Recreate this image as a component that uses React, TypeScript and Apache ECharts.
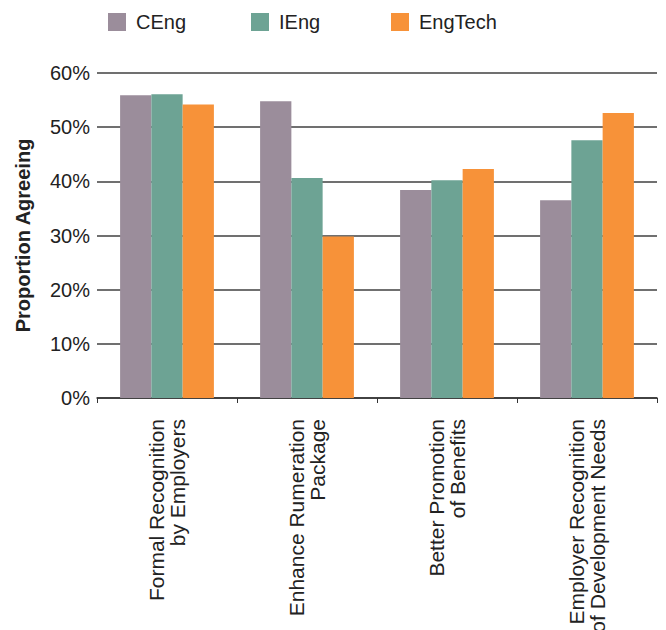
import React, { useEffect, useRef } from "react";
import * as echarts from "echarts";

const categories = [
  "Formal Recognition\nby Employers",
  "Enhance Rumeration\nPackage",
  "Better Promotion\nof Benefits",
  "Employer Recognition\nof Development Needs",
];
const seriesNames = ["CEng", "IEng", "EngTech"];
const cengValues = [55.9, 54.8, 38.4, 36.5];
const iengValues = [56.1, 40.6, 40.2, 47.6];
const engTechValues = [54.2, 29.8, 42.3, 52.6];
const colors = ["#9b8d9b", "#6da394", "#f79239"];
const legendLefts = [108, 251, 391];

export default function App() {
  const ref = useRef<HTMLDivElement>(null);
  useEffect(() => {
    if (!ref.current) return;
    const chart = echarts.init(ref.current, null, { renderer: "svg" });
    const font = "'Liberation Sans', Arial, sans-serif";
    const values = [cengValues, iengValues, engTechValues];
    chart.setOption({
      animation: false,
      textStyle: { fontFamily: font },
      legend: seriesNames.map((n, i) => ({
        data: [n],
        left: legendLefts[i],
        top: 12,
        itemWidth: 18,
        itemHeight: 18,
        icon: "rect",
        padding: 0,
        textStyle: { fontSize: 20, color: "#222", fontFamily: font, padding: [0, 0, 0, 5] },
      })),
      grid: { left: 97, right: 9, top: 73, bottom: 232, containLabel: false, outerBoundsMode: "none" },
      xAxis: {
        type: "category",
        data: categories,
        axisLine: { lineStyle: { color: "#333", width: 1.5 } },
        axisTick: { show: true, length: 5, lineStyle: { color: "#333" } },
        axisLabel: {
          rotate: 90,
          interval: 0,
          margin: 21,
          fontSize: 21,
          lineHeight: 21.5,
          color: "#222",
          fontFamily: font,
        },
      },
      yAxis: {
        type: "value",
        min: 0,
        max: 60,
        interval: 10,
        name: "Proportion Agreeing",
        nameLocation: "middle",
        nameGap: 64,
        nameTextStyle: { fontSize: 20, fontWeight: "bold", color: "#222", fontFamily: font },
        axisLabel: { formatter: "{value}%", fontSize: 20, color: "#222", margin: 7, fontFamily: font },
        axisLine: { show: false },
        axisTick: { show: false },
        splitLine: { lineStyle: { color: "#404040", width: 1.5 } },
      },
      series: seriesNames.map((n, i) => ({
        name: n,
        type: "bar",
        data: values[i],
        barGap: "0%",
        barCategoryGap: "33%",
        itemStyle: { color: colors[i] },
      })),
    });
    return () => chart.dispose();
  }, []);
  return <div ref={ref} style={{ width: 666, height: 630, position: "absolute", left: 0, top: 0 }} />;
}
